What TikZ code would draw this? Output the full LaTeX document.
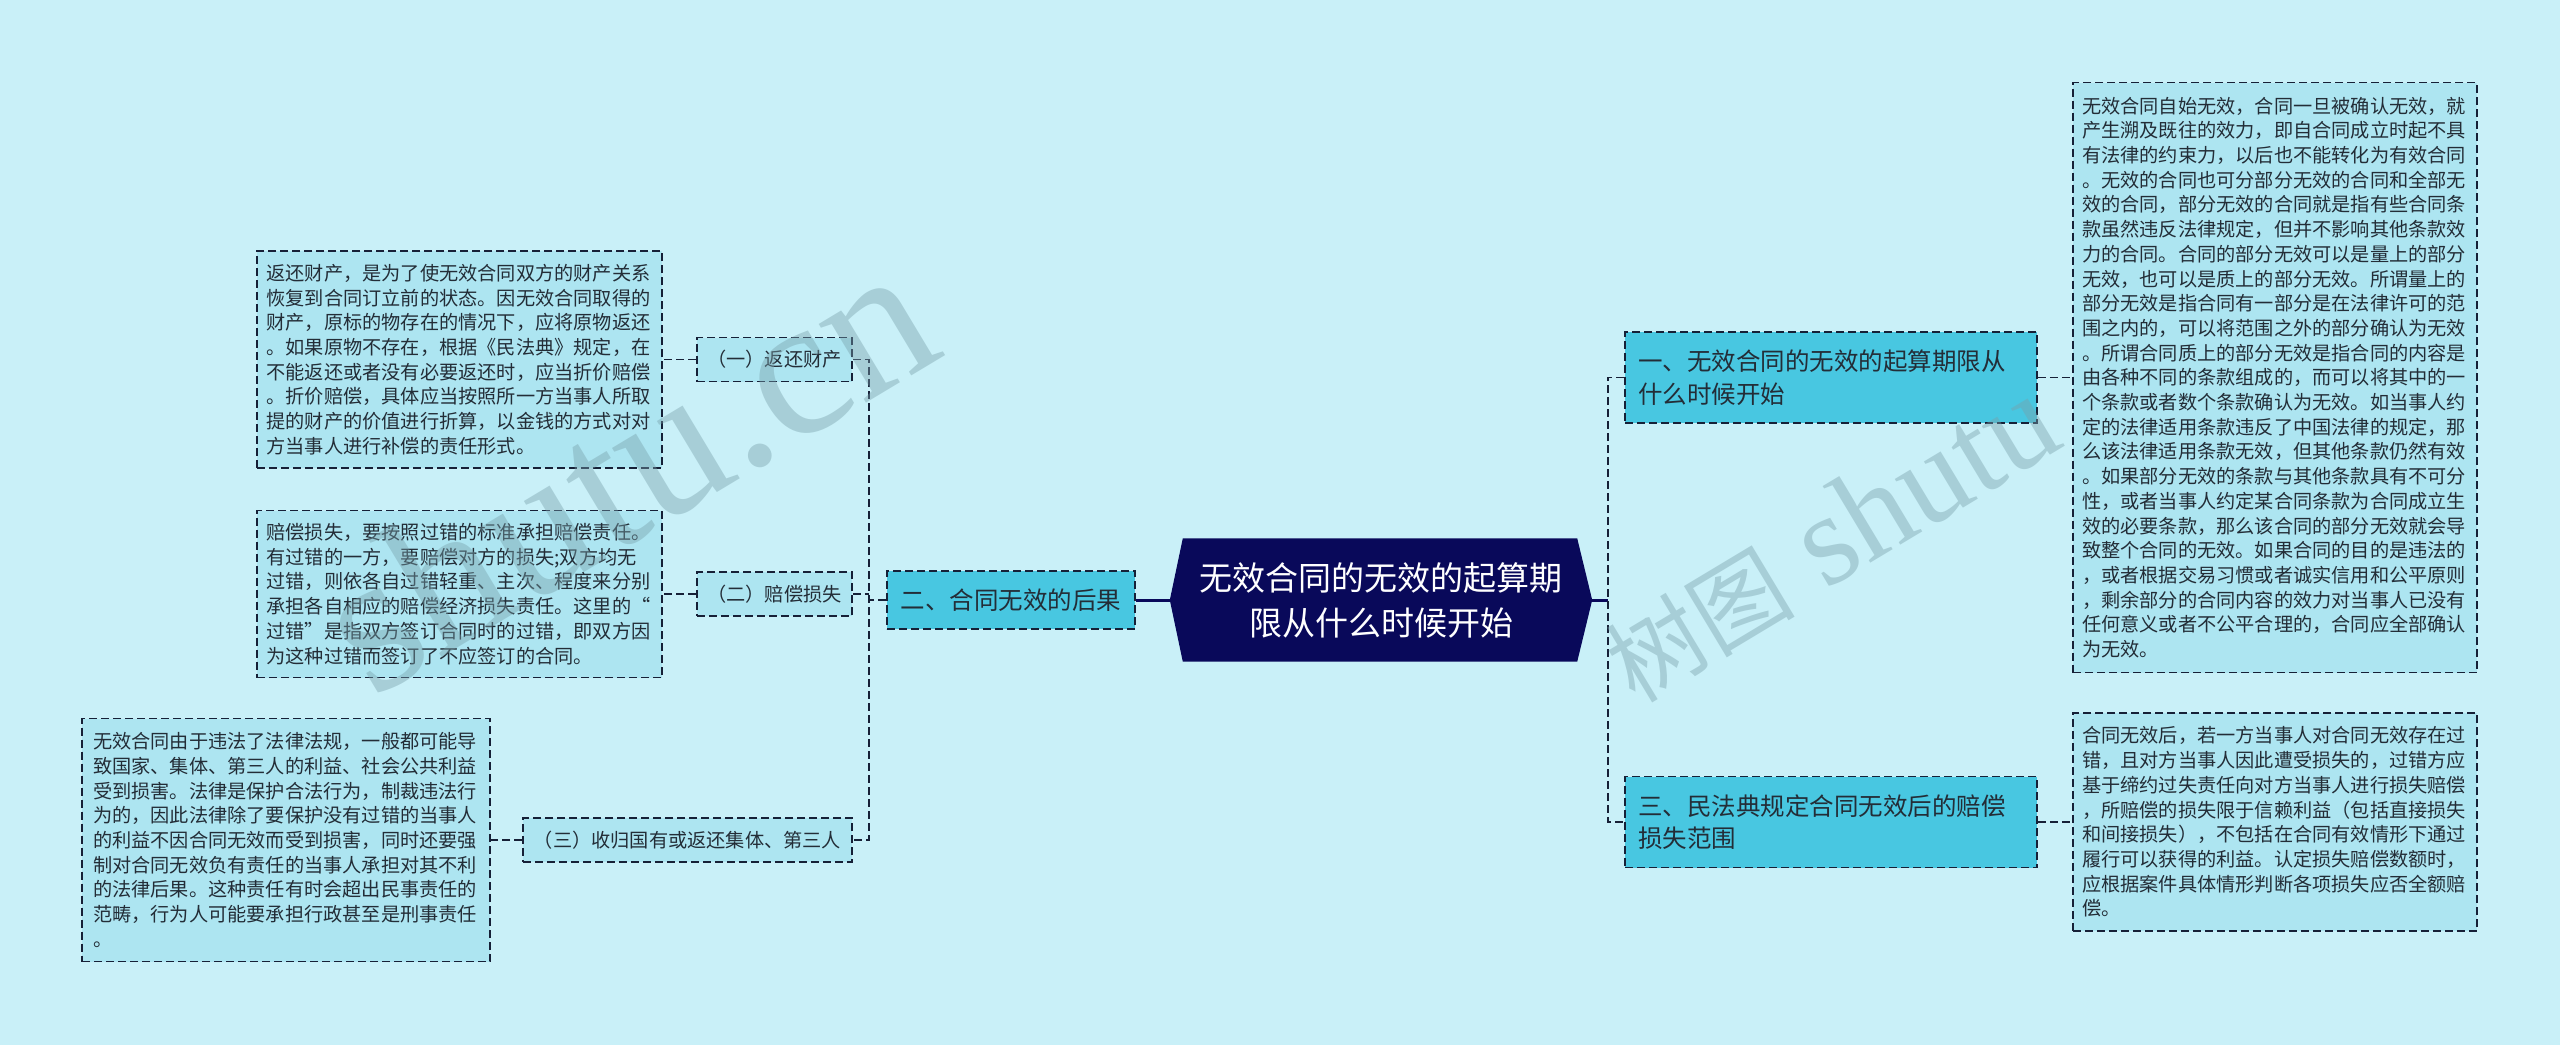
\documentclass[tikz,border=0pt]{standalone}
\usepackage{fontspec}
\setmainfont{Noto Sans CJK SC}
\newfontfamily\wmlatin{Liberation Serif}
\pgfdeclarelayer{background}
\pgfsetlayers{background,main}
\definecolor{bgc}{RGB}{201,240,248}
\definecolor{boxc}{RGB}{173,229,241}
\definecolor{lvc}{RGB}{72,199,225}
\definecolor{navy}{RGB}{9,9,90}
\definecolor{linec}{RGB}{22,32,55}
\definecolor{txt}{RGB}{35,45,55}
\definecolor{wmc}{RGB}{120,160,170}
\begin{document}
\begin{tikzpicture}[x=1pt,y=-1pt,
  dashbox/.style={draw=linec, line width=1.8pt, dash pattern=on 8pt off 4pt},
  textbox/.style={dashbox, fill=boxc, text=txt, align=left, text width=386pt, inner xsep=9.5pt, inner ysep=0pt,
    font=\fontsize{19.2pt}{24.7pt}\selectfont},
  subbox/.style={dashbox, fill=boxc, text=txt, inner sep=0pt, minimum height=44pt,
    font=\fontsize{19.2pt}{24.7pt}\selectfont},
  lvbox/.style={dashbox, fill=lvc, text=txt, inner ysep=0pt,
    font=\fontsize{24.5pt}{32.5pt}\selectfont},
  rootbox/.style={inner sep=0pt, minimum width=422pt, minimum height=123pt, text=white, align=center,
    font=\fontsize{33pt}{45pt}\selectfont},
  conn/.style={draw=linec, line width=1.8pt, dash pattern=on 8pt off 4pt},
  rootconn/.style={draw=navy, line width=3pt},
  wm/.style={text=wmc, text opacity=0.42, inner sep=0pt, anchor=base west, rotate=31}
]
\begin{pgfonlayer}{background}
\fill[bgc] (0,0) rectangle (2560,1045);
\end{pgfonlayer}
\useasboundingbox (0,0) rectangle (2560,1045);

% root
\node[rootbox] (root) at (1381,600) {无效合同的无效的起算期\\限从什么时候开始};
\begin{pgfonlayer}{background}
\fill[navy] (root.west) -- ([xshift=13pt]root.north west) -- ([xshift=-15pt]root.north east)
  -- (root.east) -- ([xshift=-15pt]root.south east) -- ([xshift=13pt]root.south west) -- cycle;
\end{pgfonlayer}

% level 1
\node[lvbox, align=left, text width=386pt, inner xsep=13pt, minimum height=91pt] (n1) at (1831,377.5)
  {一、无效合同的无效的起算期限从\\什么时候开始};
\node[lvbox, align=left, text width=386pt, inner xsep=13pt, minimum height=91pt] (n3) at (1831,822)
  {三、民法典规定合同无效后的赔偿\\损失范围};
\node[lvbox, inner xsep=0pt, minimum width=248pt, minimum height=58pt] (n2) at (1011,600)
  {二、合同无效的后果};

% sub nodes (left)
\node[subbox, minimum width=155pt] (s1) at (774.5,359.5) {（一）返还财产};
\node[subbox, minimum width=155pt] (s2) at (774.5,594) {（二）赔偿损失};
\node[subbox, minimum width=329pt] (s3) at (687.5,840) {（三）收归国有或返还集体、第三人};

% text boxes
\node[textbox, minimum height=217pt] (tL1) at (459.5,359.5) {返还财产，是为了使无效合同双方的财产关系\\
恢复到合同订立前的状态。因无效合同取得的\\
财产，原标的物存在的情况下，应将原物返还\\
。如果原物不存在，根据《民法典》规定，在\\
不能返还或者没有必要返还时，应当折价赔偿\\
。折价赔偿，具体应当按照所一方当事人所取\\
提的财产的价值进行折算，以金钱的方式对对\\
方当事人进行补偿的责任形式。};

\node[textbox, minimum height=167pt] (tL2) at (459.5,594) {赔偿损失，要按照过错的标准承担赔偿责任。\\
有过错的一方，要赔偿对方的损失;双方均无\\
过错，则依各自过错轻重、主次、程度来分别\\
承担各自相应的赔偿经济损失责任。这里的“\\
过错”是指双方签订合同时的过错，即双方因\\
为这种过错而签订了不应签订的合同。};

\node[textbox, inner xsep=11pt, minimum height=243pt] (tL3) at (286,840) {无效合同由于违法了法律法规，一般都可能导\\
致国家、集体、第三人的利益、社会公共利益\\
受到损害。法律是保护合法行为，制裁违法行\\
为的，因此法律除了要保护没有过错的当事人\\
的利益不因合同无效而受到损害，同时还要强\\
制对合同无效负有责任的当事人承担对其不利\\
的法律后果。这种责任有时会超出民事责任的\\
范畴，行为人可能要承担行政甚至是刑事责任\\
。};

\node[textbox, inner xsep=9pt, minimum height=590pt] (tR1) at (2275,377.5) {无效合同自始无效，合同一旦被确认无效，就\\
产生溯及既往的效力，即自合同成立时起不具\\
有法律的约束力，以后也不能转化为有效合同\\
。无效的合同也可分部分无效的合同和全部无\\
效的合同，部分无效的合同就是指有些合同条\\
款虽然违反法律规定，但并不影响其他条款效\\
力的合同。合同的部分无效可以是量上的部分\\
无效，也可以是质上的部分无效。所谓量上的\\
部分无效是指合同有一部分是在法律许可的范\\
围之内的，可以将范围之外的部分确认为无效\\
。所谓合同质上的部分无效是指合同的内容是\\
由各种不同的条款组成的，而可以将其中的一\\
个条款或者数个条款确认为无效。如当事人约\\
定的法律适用条款违反了中国法律的规定，那\\
么该法律适用条款无效，但其他条款仍然有效\\
。如果部分无效的条款与其他条款具有不可分\\
性，或者当事人约定某合同条款为合同成立生\\
效的必要条款，那么该合同的部分无效就会导\\
致整个合同的无效。如果合同的目的是违法的\\
，或者根据交易习惯或者诚实信用和公平原则\\
，剩余部分的合同内容的效力对当事人已没有\\
任何意义或者不公平合理的，合同应全部确认\\
为无效。};

\node[textbox, inner xsep=9pt, minimum height=218pt] (tR2) at (2275,822) {合同无效后，若一方当事人对合同无效存在过\\
错，且对方当事人因此遭受损失的，过错方应\\
基于缔约过失责任向对方当事人进行损失赔偿\\
，所赔偿的损失限于信赖利益（包括直接损失\\
和间接损失），不包括在合同有效情形下通过\\
履行可以获得的利益。认定损失赔偿数额时，\\
应根据案件具体情形判断各项损失应否全额赔\\
偿。};

% connectors right
\coordinate (rj) at (1608,600);
\draw[rootconn] (root.east) -- (rj);
\draw[conn] (n1.west) -| (rj) |- (n3.west);
\draw[conn] (n1.east) -- (tR1.west);
\draw[conn] (n3.east) -- (tR2.west);

% connectors left
\coordinate (lj) at (869,600);
\draw[rootconn] (root.west) -- (n2.east);
\draw[conn] (n2.west) -- (lj);
\draw[conn] (s1.east) -| (lj) |- (s3.east);
\draw[conn] (s2.east) -- (s2.east -| lj);
\draw[conn] (s1.west) -- (tL1.east);
\draw[conn] (s2.west) -- (tL2.east);
\draw[conn] (s3.west) -- (tL3.east);

% watermarks
\node[wm] (wmL) at (372,700) {\wmlatin\fontsize{200pt}{200pt}\selectfont shutu.cn};
\node[wm] (wmR) at (1635,705) {{\fontsize{95pt}{95pt}\selectfont 树图}\hspace{32pt}{\wmlatin\fontsize{130pt}{130pt}\selectfont shutu}};
\end{tikzpicture}
\end{document}
